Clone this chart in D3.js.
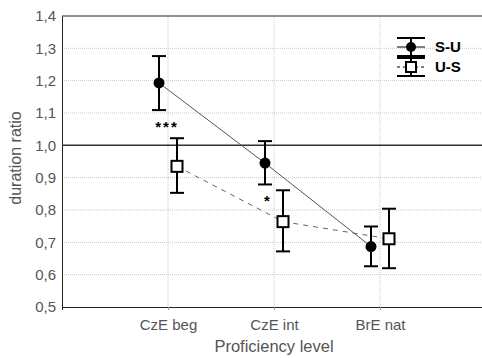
<!DOCTYPE html>
<html>
<head>
<meta charset="utf-8">
<script src="https://cdn.jsdelivr.net/npm/d3@7"></script>
<style>
  body { margin: 0; background: #fff; }
  svg { display: block; font-family: Arial, "Liberation Sans", sans-serif; }
</style>
</head>
<body>
<div id="container"></div>
<script>
// data
let levels = ["CzE beg", "CzE int", "BrE nat"];
let suMean = [1.193, 0.945, 0.687];
let suLow  = [1.109, 0.879, 0.626];
let suHigh = [1.276, 1.013, 0.749];
let usMean = [0.935, 0.764, 0.711];
let usLow  = [0.853, 0.672, 0.620];
let usHigh = [1.022, 0.861, 0.804];
let yTicks = [0.5, 0.6, 0.7, 0.8, 0.9, 1.0, 1.1, 1.2, 1.3, 1.4];
let stars = ["***", "*", ""];

let w = 482, h = 358;
let plotLeft = 62, plotTop = 16, plotBottom = 307;

let svg = d3.select("#container").append("svg")
    .attr("width", w).attr("height", h);

let xScale = d3.scaleLinear().domain([0, 4]).range([plotLeft, 486]);
let yScale = d3.scaleLinear().domain([0.5, 1.4]).range([plotBottom, plotTop]);
let fmt = d => d.toFixed(1).replace(".", ",");

// grid
svg.append("g").selectAll("line").data(yTicks.slice(1, -1)).join("line")
    .attr("x1", plotLeft).attr("x2", w)
    .attr("y1", d => yScale(d)).attr("y2", d => yScale(d))
    .attr("stroke", "#c8c8c8").attr("stroke-dasharray", "1,1");
svg.append("g").selectAll("line").data(levels).join("line")
    .attr("x1", (d, i) => xScale(i + 1)).attr("x2", (d, i) => xScale(i + 1))
    .attr("y1", plotTop).attr("y2", plotBottom)
    .attr("stroke", "#c8c8c8").attr("stroke-dasharray", "1,1");

// axes
let yAxis = d3.axisLeft(yScale).tickValues(yTicks).tickFormat(fmt).tickSize(0).tickPadding(6);
svg.append("g").attr("transform", "translate(" + plotLeft + ",0)").call(yAxis)
    .call(g => g.select(".domain").attr("stroke", "#222"))
    .selectAll("text").attr("font-size", 15).attr("fill", "#555");

let xAxis = d3.axisBottom(xScale).tickValues([1, 2, 3]).tickFormat(d => levels[d - 1]).tickSize(3).tickPadding(9);
svg.append("g").attr("transform", "translate(0," + plotBottom + ")").call(xAxis)
    .call(g => g.select(".domain").attr("stroke", "#222"))
    .call(g => g.selectAll(".tick line").attr("stroke", "#999"))
    .selectAll("text").attr("font-size", 15).attr("fill", "#555");

svg.append("line").attr("x1", plotLeft).attr("x2", w).attr("y1", plotTop).attr("y2", plotTop)
    .attr("stroke", "#222");
svg.append("line").attr("x1", plotLeft).attr("x2", w)
    .attr("y1", yScale(1.0)).attr("y2", yScale(1.0))
    .attr("stroke", "#333").attr("stroke-width", 1.5);

// labels
svg.append("text").attr("x", 274).attr("y", 352).attr("text-anchor", "middle")
    .attr("font-size", 16.5).attr("fill", "#555").text("Proficiency level");
svg.append("text").attr("transform", "translate(21,158) rotate(-90)")
    .attr("text-anchor", "middle").attr("font-size", 16).attr("fill", "#555")
    .text("duration ratio");

// series
let off = 9;
let series = [
  {mean: suMean, low: suLow, high: suHigh, dx: -off, filled: true, dash: null, col: "#555"},
  {mean: usMean, low: usLow, high: usHigh, dx: off, filled: false, dash: "5,5", col: "#666"}
];

series.forEach(s => {
  let pts = s.mean.map((v, i) => [xScale(i + 1) + s.dx, yScale(v)]);
  svg.append("path").attr("d", d3.line()(pts)).attr("fill", "none")
      .attr("stroke", s.col).attr("stroke-width", 1)
      .attr("stroke-dasharray", s.dash);
});

series.forEach(s => {
  let g = svg.append("g").selectAll("g").data(s.mean).join("g")
      .attr("transform", (d, i) => "translate(" + (xScale(i + 1) + s.dx) + ",0)");
  g.append("line").attr("y1", (d, i) => yScale(s.low[i])).attr("y2", (d, i) => yScale(s.high[i]))
      .attr("stroke", "#000").attr("stroke-width", 2);
  g.append("line").attr("x1", -7).attr("x2", 7)
      .attr("y1", (d, i) => yScale(s.low[i])).attr("y2", (d, i) => yScale(s.low[i]))
      .attr("stroke", "#000").attr("stroke-width", 2);
  g.append("line").attr("x1", -7).attr("x2", 7)
      .attr("y1", (d, i) => yScale(s.high[i])).attr("y2", (d, i) => yScale(s.high[i]))
      .attr("stroke", "#000").attr("stroke-width", 2);
  if (s.filled) {
    g.append("circle").attr("cy", d => yScale(d)).attr("r", 5.5).attr("fill", "#000");
  } else {
    g.append("rect").attr("x", -5.5).attr("y", d => yScale(d) - 5.5)
        .attr("width", 11).attr("height", 11)
        .attr("fill", "#fff").attr("stroke", "#000").attr("stroke-width", 2);
  }
});

// significance stars, just under the S-U lower whisker
svg.append("g").selectAll("text").data(stars).join("text")
    .attr("x", (d, i) => xScale(i + 1) - (d.length === 1 ? 6 : 1))
    .attr("y", (d, i) => yScale(suLow[i]) + 22)
    .attr("text-anchor", "middle").attr("font-size", 15).attr("font-weight", "bold")
    .attr("letter-spacing", 2).attr("fill", "#000").text(d => d);

// legend
let legend = [{name: "S-U", filled: true, y: 47}, {name: "U-S", filled: false, y: 67}];
let lg = svg.append("g").selectAll("g").data(legend).join("g")
    .attr("transform", d => "translate(411," + d.y + ")");
lg.append("line").attr("y1", -9).attr("y2", 9).attr("stroke", "#000").attr("stroke-width", 2);
lg.append("line").attr("x1", -14).attr("x2", 14).attr("y1", -9).attr("y2", -9).attr("stroke", "#000").attr("stroke-width", 2);
lg.append("line").attr("x1", -14).attr("x2", 14).attr("y1", 9).attr("y2", 9).attr("stroke", "#000").attr("stroke-width", 2);
lg.append("line").attr("x1", -14).attr("x2", 14).attr("stroke", "#000")
    .attr("stroke-dasharray", d => d.filled ? null : "3,3");
lg.filter(d => d.filled).append("circle").attr("r", 5).attr("fill", "#000");
lg.filter(d => !d.filled).append("rect").attr("x", -5).attr("y", -5).attr("width", 10).attr("height", 10)
    .attr("fill", "#fff").attr("stroke", "#000").attr("stroke-width", 2);
lg.append("text").attr("x", 24).attr("y", 5).attr("font-size", 15).attr("font-weight", "bold")
    .attr("fill", "#000").text(d => d.name);
</script>
</body>
</html>
